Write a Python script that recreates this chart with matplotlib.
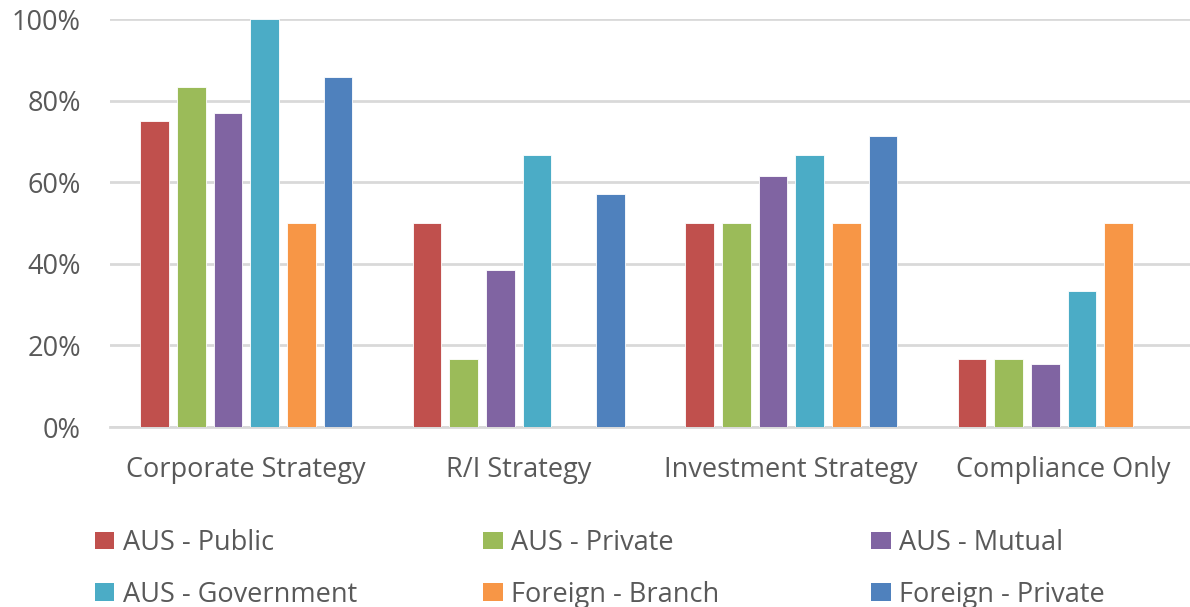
import numpy as np
import matplotlib.pyplot as plt
from matplotlib.patches import Patch
from matplotlib.ticker import PercentFormatter

plt.rcParams['font.family'] = ['Open Sans', 'DejaVu Sans']

categories = ['Corporate Strategy', 'R/I Strategy', 'Investment Strategy', 'Compliance Only']
series = ['AUS - Public', 'AUS - Private', 'AUS - Mutual',
          'AUS - Government', 'Foreign - Branch', 'Foreign - Private']
colors = ['#C0504D', '#9BBB59', '#8064A2', '#4BACC6', '#F79646', '#4F81BD']

aus_public = [75.0, 50.0, 50.0, 16.7]
aus_private = [83.3, 16.7, 50.0, 16.7]
aus_mutual = [76.9, 38.5, 61.5, 15.4]
aus_government = [100.0, 66.7, 66.7, 33.3]
foreign_branch = [50.0, 0.0, 50.0, 50.0]
foreign_private = [85.7, 57.1, 71.4, 0.0]
values = [aus_public, aus_private, aus_mutual, aus_government,
          foreign_branch, foreign_private]

text_col = '#595959'
grid_col = '#D9D9D9'
fs = 19.5

fig = plt.figure(figsize=(11.9, 6.07), dpi=100)
# plot area runs slightly past the right edge like in the original
ax = fig.add_axes([110 / 1190, 180 / 607, 1090 / 1190, 408 / 607])

x = np.arange(len(categories))
step = 0.1345
width = 0.105
for i, (name, vals) in enumerate(zip(series, values)):
    ax.bar(x + (i - 2.5) * step, vals, width, color=colors[i], label=name,
           edgecolor='white', linewidth=0.6, zorder=3)

ax.set_xlim(-0.5, len(categories) - 0.5)
ax.set_ylim(0, 100)
ax.set_yticks(range(0, 101, 20))
ax.yaxis.set_major_formatter(PercentFormatter(decimals=0))
ax.grid(axis='y', color=grid_col, linewidth=2, zorder=0)
for s in ['top', 'right', 'left']:
    ax.spines[s].set_visible(False)
ax.spines['bottom'].set_color(grid_col)
ax.spines['bottom'].set_linewidth(2)
ax.set_xticks(x)
ax.set_xticklabels(categories)
ax.tick_params(axis='both', length=0, labelsize=fs, labelcolor=text_col)
ax.tick_params(axis='x', pad=21)
ax.tick_params(axis='y', pad=21)

# legend: three columns, two rows, filled row by row
handles = [Patch(facecolor=c, edgecolor='none') for c in colors]
for col in range(3):
    lg = fig.legend([handles[col], handles[col + 3]], [series[col], series[col + 3]],
                    loc='upper left', bbox_to_anchor=(0, 0),
                    frameon=False, fontsize=fs, labelcolor=text_col,
                    handlelength=0.72, handleheight=0.6, handletextpad=0.3,
                    labelspacing=0.87, borderaxespad=0, borderpad=0)
    lg.set_bbox_to_anchor(((95 + col * 388) / 1190, 1 - 529 / 607), transform=fig.transFigure)

fig.savefig('out.png', dpi=100)
